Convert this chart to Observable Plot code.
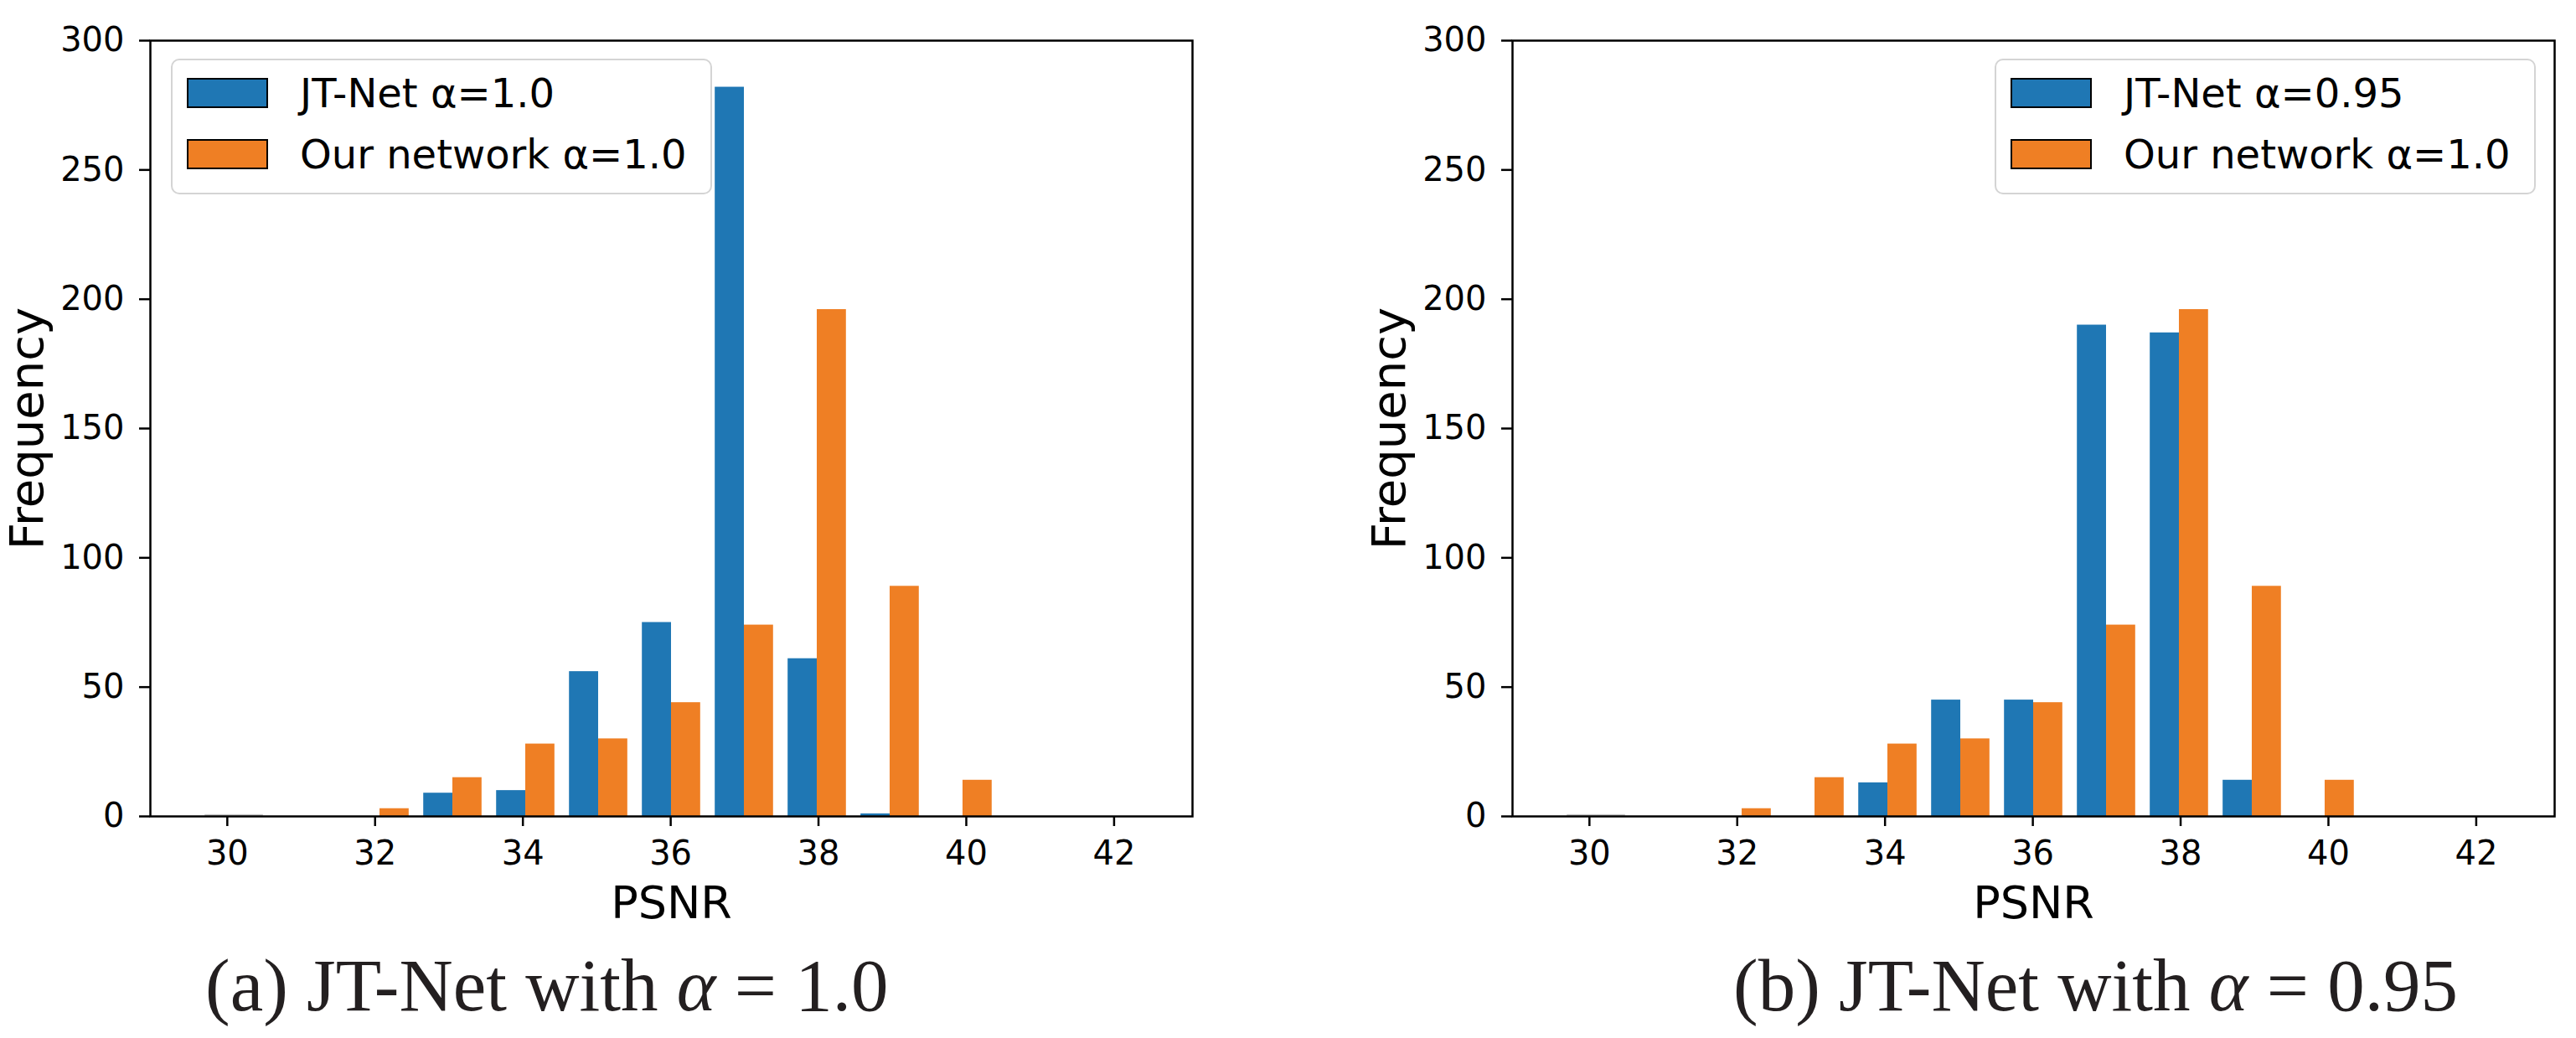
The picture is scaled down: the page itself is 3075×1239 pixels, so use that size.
<!DOCTYPE html>
<html><head><meta charset="utf-8">
<script src="https://cdn.jsdelivr.net/npm/d3@7"></script>
<script src="https://cdn.jsdelivr.net/npm/@observablehq/plot@0.6"></script>
<style>
body{margin:0;background:#fff;}
#page{position:relative;width:3075px;height:1239px;overflow:hidden;font-family:"DejaVu Sans",sans-serif;background:#fff;}
.panel{position:absolute;top:0;width:1500px;height:1110px;}
.panel svg{overflow:visible;max-width:none !important;width:1500px;height:1110px;}
.legend{position:absolute;border:2px solid #d4d4d4;border-radius:10px;background:#fff;box-sizing:border-box;}
.legend .row{position:absolute;left:17px;display:flex;align-items:center;height:36px;}
.sw{width:97px;height:36px;border:2.5px solid #000;box-sizing:border-box;}
.lt{font-size:48px;color:#000;margin-left:38px;white-space:nowrap;line-height:36px;}
.cap{position:absolute;top:1132px;font-family:"Liberation Serif",serif;font-size:89px;color:#231f20;line-height:89px;white-space:nowrap;}
</style></head><body><div id="page"></div>
<script>
// Histogram bin range and count (PSNR)
const binRange = [29.60, 42.42];
const binCount = 13;
const xTicks = [30, 32, 34, 36, 38, 40, 42];
const yTicks = [0, 50, 100, 150, 200, 250, 300];

// Frequencies per bin (values < 1 are the faint, near-zero bar in the first bin)
const jtNetAlpha10  = [0.7, 0, 0, 9, 10, 56, 75, 282, 61, 1, 0, 0, 0];
const jtNetAlpha095 = [0.7, 0, 0, 0, 13, 45, 45, 190, 187, 14, 0, 0, 0];
const ourNetAlpha10 = [0.7, 0, 3, 15, 28, 30, 44, 74, 196, 89, 14, 0, 0];

const seriesColors = ["#1f77b4", "#ef7f24"];
const faintColor = "#c4c4c4";

const panels = [
  {left: 0, series: [{label: "JT-Net α=1.0", values: jtNetAlpha10}, {label: "Our network α=1.0", values: ourNetAlpha10}],
   legend: {left: 204, top: 70, width: 646, height: 162},
   caption: '(a) JT-Net with <i>α</i> = 1.0', captionLeft: 245},
  {left: 1626, series: [{label: "JT-Net α=0.95", values: jtNetAlpha095}, {label: "Our network α=1.0", values: ourNetAlpha10}],
   legend: {left: 2381, top: 70, width: 646, height: 162},
   caption: '(b) JT-Net with <i>α</i> = 0.95', captionLeft: 2069}
];

const page = document.getElementById("page");

function drawPanel(p) {
  const span = binRange[1] - binRange[0];
  const w = span / binCount;
  const rows = [];
  p.series.forEach((s, si) => s.values.forEach((v, i) => {
    if (v <= 0) return;
    const left = binRange[0] + i * w;
    rows.push({x1: left + (0.1 + 0.4 * si) * w, x2: left + (0.5 + 0.4 * si) * w, v, fill: v < 1 ? faintColor : seriesColors[si]});
  }));
  const chart = Plot.plot({
    width: 1500, height: 1110,
    marginLeft: 179, marginRight: 77, marginTop: 48, marginBottom: 136,
    style: {fontFamily: "DejaVu Sans", color: "#000", background: "transparent", overflow: "visible"},
    x: {domain: [binRange[0] - 0.05 * span, binRange[1] + 0.05 * span]},
    y: {domain: [0, 300]},
    color: {type: "identity"},
    marks: [
      Plot.rect(rows, {x1: "x1", x2: "x2", y1: 0, y2: "v", fill: "fill"}),
      Plot.axisX({ticks: xTicks, tickFormat: d => String(d), tickSize: 12, tickPadding: 17, fontSize: 40, strokeWidth: 2.5, label: null}),
      Plot.axisY({ticks: yTicks, tickFormat: d => String(d), tickSize: 13, tickPadding: 18, fontSize: 40, strokeWidth: 2.5, label: null}),
      Plot.frame({stroke: "#000", strokeWidth: 2.5}),
      Plot.text(["PSNR"], {frameAnchor: "bottom", dy: 121, lineAnchor: "bottom", textAnchor: "middle", fontSize: 54, text: d => d}),
      Plot.text(["Frequency"], {frameAnchor: "left", dx: -146, rotate: -90, textAnchor: "middle", fontSize: 56, text: d => d})
    ]
  });
  const holder = document.createElement("div");
  holder.className = "panel";
  holder.style.left = p.left + "px";
  holder.appendChild(chart);
  page.appendChild(holder);

  const lg = document.createElement("div");
  lg.className = "legend";
  Object.assign(lg.style, {left: p.legend.left + "px", top: p.legend.top + "px", width: p.legend.width + "px", height: p.legend.height + "px"});
  p.series.forEach((s, si) => {
    const row = document.createElement("div");
    row.className = "row";
    row.style.top = (21 + si * 73) + "px";
    const sw = document.createElement("div");
    sw.className = "sw";
    sw.style.background = seriesColors[si];
    const lt = document.createElement("div");
    lt.className = "lt";
    lt.textContent = s.label;
    row.appendChild(sw); row.appendChild(lt);
    lg.appendChild(row);
  });
  page.appendChild(lg);

  const cap = document.createElement("div");
  cap.className = "cap";
  cap.style.left = p.captionLeft + "px";
  cap.innerHTML = p.caption;
  page.appendChild(cap);
}
panels.forEach(drawPanel);
</script></body></html>
